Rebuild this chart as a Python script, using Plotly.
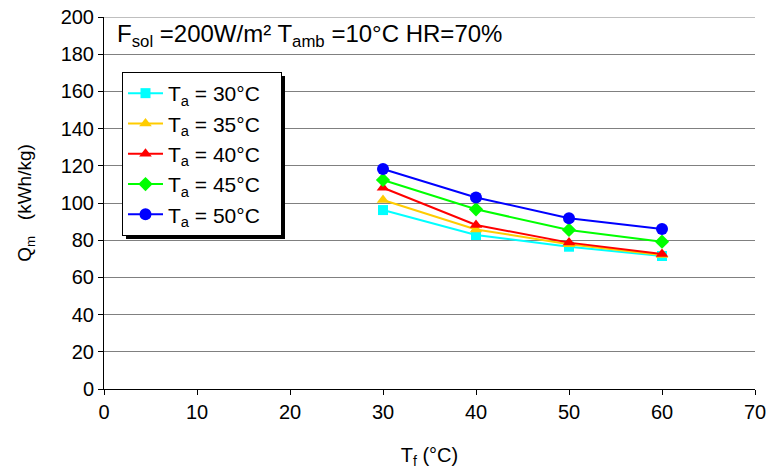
import plotly.graph_objects as go

tf = [30, 40, 50, 60]
labels = ["T<sub>a</sub> = 30°C", "T<sub>a</sub> = 35°C", "T<sub>a</sub> = 40°C",
          "T<sub>a</sub> = 45°C", "T<sub>a</sub> = 50°C"]
q_30 = [96.2, 82.8, 76.5, 71.5]
q_35 = [101.6, 85.8, 77.8, 72.0]
q_40 = [108.2, 88.2, 78.7, 72.6]
q_45 = [112.4, 96.6, 85.5, 79.2]
q_50 = [118.3, 103.0, 91.8, 86.0]
series = [q_30, q_35, q_40, q_45, q_50]
colors = ["#00FFFF", "#FFCC00", "#FF0000", "#00FF00", "#0000FF"]
symbols = ["square", "triangle-up", "triangle-up", "diamond", "circle"]
sizes = [10, 11, 11, 11, 12]

fig = go.Figure()
for i, (lab, ys, c, s, sz) in enumerate(zip(labels, series, colors, symbols, sizes)):
    fig.add_trace(go.Scatter(x=tf, y=ys, name=lab + "\u00a0\u00a0\u2009", mode="lines+markers",
                             legendgroup=f"g{i}",
                             line=dict(color=c, width=2),
                             marker=dict(color=c, symbol=s, size=sz)))

W, H = 775, 473
ml, mr, mt, mb = 104, 20, 17, 84
pw, ph = W - ml - mr, H - mt - mb

def px2paper(x, y):
    return (x - ml) / pw, (H - mb - y) / ph

lx0, ly0 = px2paper(122, 72)
sx0, sy0 = px2paper(126, 76)
sx1, sy1 = px2paper(285, 239)
ax, ay = px2paper(115, 36)

# legend shadow
fig.add_shape(type="rect", xref="paper", yref="paper", x0=sx0, y0=sy1, x1=sx1, y1=sy0,
              fillcolor="black", line=dict(width=0), layer="above")
# top gridline at the range end
fig.add_shape(type="line", xref="paper", yref="y", x0=0, x1=1, y0=200, y1=200,
              line=dict(color="#808080", width=1), layer="below")

fig.update_layout(
    width=W, height=H,
    margin=dict(l=ml, r=mr, t=mt, b=mb),
    plot_bgcolor="white", paper_bgcolor="white",
    font=dict(family="Arial, Liberation Sans", size=20, color="black"),
    showlegend=True,
    legend=dict(x=lx0, y=ly0, xanchor="left", yanchor="top",
                bgcolor="white", bordercolor="black", borderwidth=1,
                font=dict(size=21), tracegroupgap=0, itemwidth=35),
    xaxis=dict(range=[0, 70], tickvals=list(range(0, 71, 10)), showgrid=False,
               showline=True, linecolor="black", linewidth=1, automargin=False,
               ticks="outside", ticklen=5, tickcolor="black", zeroline=False,
               title=dict(text="T<sub>f</sub> (°C)", font=dict(size=20), standoff=25)),
    yaxis=dict(range=[0, 200], tickvals=list(range(0, 201, 20)), showgrid=True,
               gridcolor="#808080", gridwidth=1, automargin=False,
               showline=True, linecolor="black", linewidth=1,
               ticks="outside", ticklen=5, tickcolor="black", zeroline=False,
               title=dict(text="Q<sub>m</sub>   (kWh/kg)", font=dict(size=19), standoff=23)),
    annotations=[dict(text="F<sub>sol</sub> =200W/m² T<sub>amb</sub> =10°C HR=70%",
                      xref="paper", yref="paper", x=ax, y=ay,
                      xanchor="left", yanchor="middle", showarrow=False,
                      font=dict(size=24))],
)

fig.write_html("out.html", config={"displayModeBar": False},
               post_script="document.body.style.margin='0px';")
